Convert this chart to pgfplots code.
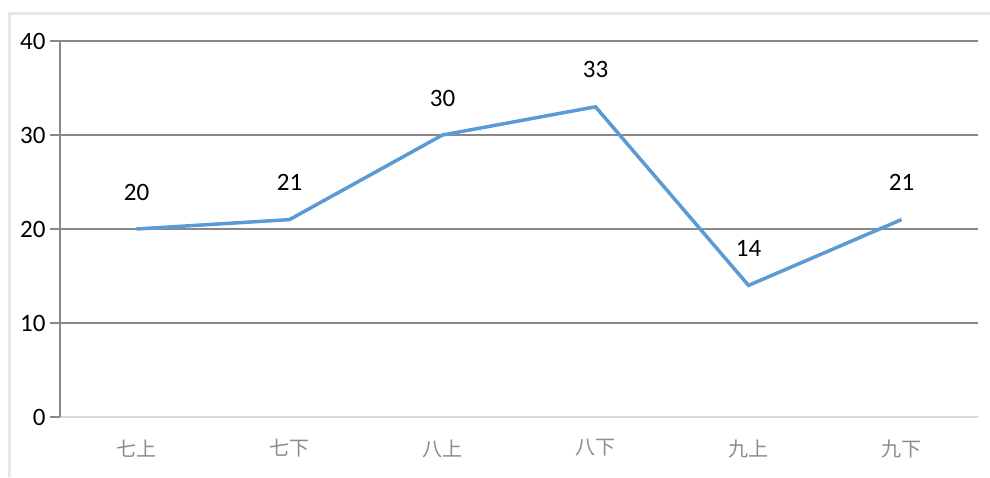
\documentclass[border=0pt]{standalone}
\usepackage{pgfplots}
\pgfplotsset{compat=1.18}
\usetikzlibrary{calc}
\usepackage{fontspec}
\setmainfont{Carlito}
\newfontfamily\cjk{Noto Sans CJK SC}
\definecolor{linec}{HTML}{5B9BD5}
\definecolor{gridc}{HTML}{898989}
\definecolor{xaxc}{HTML}{D9D9D9}
\definecolor{framec}{HTML}{E8E8E8}
\definecolor{cjkc}{HTML}{8C8C8C}
\begin{document}
\begin{tikzpicture}
\begin{axis}[
  scale only axis, width=918pt, height=376pt,
  xmin=-0.5, xmax=5.5, ymin=0, ymax=40,
  ytick={0,10,20,30,40},
  yticklabels={0,10,20,30,40},
  xtick={0,1,2,3,4,5},
  xticklabels={七上,七下,八上,八下,九上,九下},
  xticklabel style={font=\cjk\fontsize{20}{20}\selectfont, text=cjkc, yshift=-9pt},
  yticklabel style={font=\fontsize{25}{25}\selectfont, text=black, xshift=-1pt},
  minor xtick={-0.5,0.5,1.5,2.5,3.5,4.5,5.5},
  axis x line*=bottom, axis y line*=left,
  x axis line style={xaxc, line width=1.3pt, -},
  y axis line style={gridc, line width=1.3pt, -},
  ymajorgrids, grid style={gridc, line width=1.3pt},
  tick align=outside,
  major tick length=10pt, minor tick length=10pt,
  xtick style={draw=none},
  minor x tick style={xaxc, line width=1.3pt},
  minor x grid style={draw=none},
  ytick style={gridc, line width=1.3pt},
  clip=false,
  nodes near coords,
  every node near coord/.style={anchor=center, yshift=37pt, font=\fontsize{25}{25}\selectfont, text=black},
  /pgf/number format/assume math mode=true,
]
\addplot[linec, line width=3.5pt, mark=none] coordinates {
(0,20) (1,21) (2,30) (3,33) (4,14) (5,21)
};
\coordinate (O) at (rel axis cs:0,0);
\end{axis}
\pgfresetboundingbox
\useasboundingbox ($(O)+(-60pt,-60pt)$) rectangle ($(O)+(930pt,417pt)$);
\draw[framec, line width=3pt] ($(O)+(-50pt,-60pt)$) -- ($(O)+(-50pt,403pt)$) -- ($(O)+(930pt,403pt)$);
\end{tikzpicture}
\end{document}
